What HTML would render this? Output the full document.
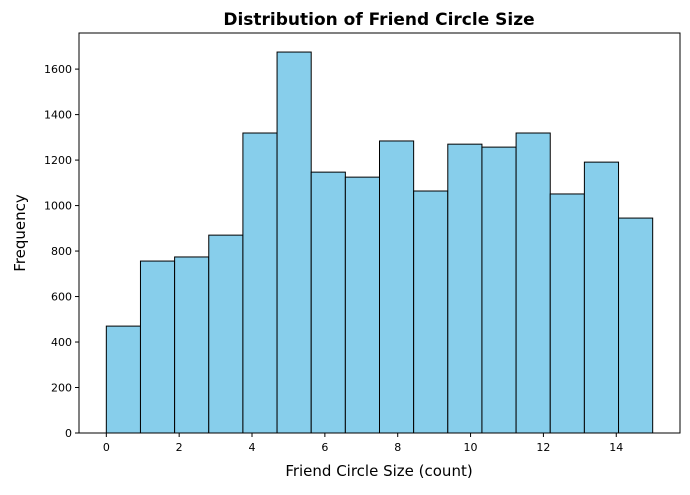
<!DOCTYPE html>
<html><head><meta charset="utf-8"><style>
body{margin:0;background:#fff;font-family:"Liberation Sans","DejaVu Sans",sans-serif;}
svg text{font-family:"DejaVu Sans","Liberation Sans",sans-serif;}
</style></head><body>
<svg id="chart" width="690" height="490" xmlns="http://www.w3.org/2000/svg">
<text x="379" y="25" text-anchor="middle" font-size="17" font-weight="bold">Distribution of Friend Circle Size</text>
<text x="379" y="476" text-anchor="middle" font-size="15">Friend Circle Size (count)</text>
<text x="0" y="0" transform="translate(25,233) rotate(-90)" text-anchor="middle" font-size="15">Frequency</text>
<g id="bars"></g><g id="axes"></g>
</svg>
<script>
const binStart = 0, binEnd = 15;
const counts = [470, 756, 774, 870, 1319, 1675, 1147, 1125, 1284, 1064, 1270, 1257, 1319, 1051, 1191, 945];
const xTicks = [0, 2, 4, 6, 8, 10, 12, 14];
const yTicks = [0, 200, 400, 600, 800, 1000, 1200, 1400, 1600];
const L=79, R=680, T=33, B=433;
const xMin=-0.75, xMax=15.75, yMax=Math.max(...counts)*1.05;
const xs=v=>L+(v-xMin)/(xMax-xMin)*(R-L);
const ys=v=>B-v/yMax*(B-T);
const NS="http://www.w3.org/2000/svg";
const mk=(t,a,p)=>{const e=document.createElementNS(NS,t);for(const k in a)e.setAttribute(k,a[k]);p.appendChild(e);return e;};
const bars=document.getElementById('bars'), axes=document.getElementById('axes');
const w=(binEnd-binStart)/counts.length;
counts.forEach((c,i)=>{
  const x0=xs(binStart+i*w), x1=xs(binStart+(i+1)*w);
  const r=mk('rect',{x:x0,y:ys(c),width:x1-x0,height:B-ys(c),fill:'#87ceeb',stroke:'#000','stroke-width':1},bars);
  
  
});
const frame=mk('rect',{x:L,y:T,width:R-L,height:B-T,fill:'none',stroke:'#000','stroke-width':1},axes);


xTicks.forEach(t=>{
  const x=xs(t);
  mk('line',{x1:x,x2:x,y1:B,y2:B+4,stroke:'#000'},axes);
  const tx=mk('text',{x:x,y:B+18,'text-anchor':'middle','font-size':11},axes);
  tx.textContent=t;
  
  
});
yTicks.forEach(t=>{
  const y=ys(t);
  mk('line',{x1:L-4,x2:L,y1:y,y2:y,stroke:'#000'},axes);
  const tx=mk('text',{x:L-7,y:y+4,'text-anchor':'end','font-size':11},axes);
  tx.textContent=t;
  
  
});
</script>
</body></html>
